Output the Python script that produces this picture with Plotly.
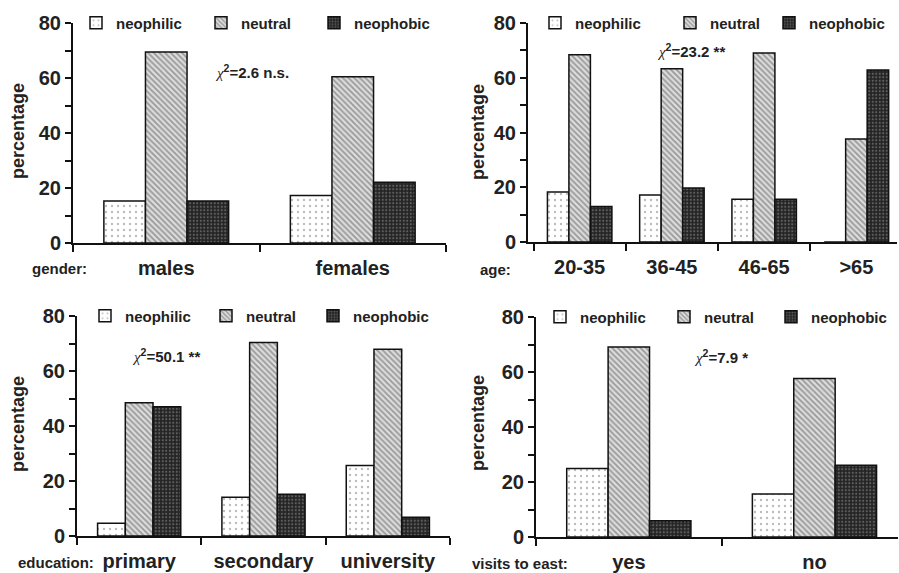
import plotly.graph_objects as go

W, H = 899, 573

series = ["neophilic", "neutral", "neophobic"]

gender_cats = ["males", "females"]
gender_neophilic = [15.3, 17.3]
gender_neutral = [69.5, 60.5]
gender_neophobic = [15.3, 22.1]

age_cats = ["20-35", "36-45", "46-65", ">65"]
age_neophilic = [18.3, 17.2, 15.6, 0]
age_neutral = [68.4, 63.3, 69.0, 37.6]
age_neophobic = [13.0, 19.7, 15.6, 62.8]

edu_cats = ["primary", "secondary", "university"]
edu_neophilic = [4.6, 14.1, 25.6]
edu_neutral = [48.5, 70.4, 67.9]
edu_neophobic = [47.0, 15.2, 6.8]

east_cats = ["yes", "no"]
east_neophilic = [24.9, 15.6]
east_neutral = [69.1, 57.6]
east_neophobic = [5.9, 26.1]

y_ticks = [0, 20, 40, 60, 80]

chi_texts = ["=2.6 n.s.", "=23.2 **", "=50.1 **", "=7.9 *"]
prefix_texts = ["gender:", "age:", "education:", "visits to east:"]

FONT = "Liberation Sans, Arial, sans-serif"
INK = "#222222"


def px(x):
    return x / W


def py(y):
    return 1 - y / H


panels = [
    dict(cats=gender_cats, vals=[gender_neophilic, gender_neutral, gender_neophobic],
         dom_x=(73, 446), dom_y=(23, 243), rng=[-0.5, 1.5], bw=0.223,
         leg_tx=[113, 238, 351], leg_y=23,
         chi=(213, 71), prefix=(30, 268), title=(18, 131)),
    dict(cats=age_cats, vals=[age_neophilic, age_neutral, age_neophobic],
         dom_x=(528, 897), dom_y=(23, 242), rng=[-0.56, 3.44], bw=0.233,
         leg_tx=[572, 707, 806], leg_y=23,
         chi=(655, 50), prefix=(478, 269), title=(478, 132)),
    dict(cats=edu_cats, vals=[edu_neophilic, edu_neutral, edu_neophobic],
         dom_x=(77, 450), dom_y=(316, 536), rng=[-0.5, 2.5], bw=0.223,
         leg_tx=[122, 243, 350], leg_y=316,
         chi=(130, 355), prefix=(16, 562), title=(18, 424)),
    dict(cats=east_cats, vals=[east_neophilic, east_neutral, east_neophobic],
         dom_x=(536, 898), dom_y=(317, 537), rng=[-0.5, 1.45], bw=0.223,
         leg_tx=[577, 701, 808], leg_y=317,
         chi=(692, 356), prefix=(470, 563), title=(478, 423)),
]

styles = [
    dict(color="white", pattern=dict(shape=".", fgcolor="#777777", bgcolor="white", size=6, solidity=0.12)),
    dict(color="#dcdcdc", pattern=dict(shape="\\", fgcolor="#555555", bgcolor="#dcdcdc", size=4, solidity=0.45)),
    dict(color="#242424", pattern=dict(shape=".", fgcolor="#999999", bgcolor="#242424", size=3.5, solidity=0.3)),
]

fig = go.Figure()
annotations = []
legend_layouts = {}
leg_idx = 0

for p, cfg in enumerate(panels):
    ax = "" if p == 0 else str(p + 1)
    bw = cfg["bw"]
    for s, name in enumerate(series):
        leg_idx += 1
        leg_name = "legend" if leg_idx == 1 else f"legend{leg_idx}"
        st = styles[s]
        fig.add_trace(go.Bar(
            x=cfg["cats"], y=cfg["vals"][s], name=name,
            xaxis="x" + ax, yaxis="y" + ax,
            width=bw, offset=(s - 1.5) * bw,
            marker=dict(color=st["color"], pattern=st["pattern"],
                        line=dict(color="#111111", width=1.5)),
            legend=leg_name, showlegend=True,
        ))
        legend_layouts[leg_name] = dict(
            x=px(cfg["leg_tx"][s] - 37), y=py(cfg["leg_y"]),
            xanchor="left", yanchor="middle", orientation="h",
            bgcolor="rgba(0,0,0,0)", borderwidth=0,
            font=dict(size=15, family=FONT, color=INK, weight="bold"),
            itemwidth=30, tracegroupgap=0,
        )

    fig.update_layout({
        "xaxis" + ax: dict(
            domain=[px(cfg["dom_x"][0]), px(cfg["dom_x"][1])],
            anchor="y" + ax, type="category", range=cfg["rng"],
            tickson="boundaries", ticks="outside", ticklen=7, tickwidth=2,
            tickcolor="#111111", showline=True, linewidth=2, linecolor="#111111",
            showgrid=False, zeroline=False, ticklabelstandoff=6,
            tickfont=dict(size=20, family=FONT, color=INK, weight="bold"),
        ),
        "yaxis" + ax: dict(
            domain=[py(cfg["dom_y"][1]), py(cfg["dom_y"][0])],
            anchor="x" + ax, range=[0, 80], tickvals=y_ticks,
            ticks="outside", ticklen=6, tickwidth=2, tickcolor="#111111",
            minor=dict(dtick=10, ticks="outside", ticklen=6, tickwidth=2, tickcolor="#111111"),
            showline=True, linewidth=2, linecolor="#111111",
            showgrid=False, zeroline=False,
            tickfont=dict(size=20, family=FONT, color=INK, weight="bold"),
        ),
    })

    annotations.append(dict(
        text="<span style='font-family:Liberation Serif;font-weight:normal'><i>\u03c7</i></span><sup>2</sup>" + chi_texts[p],
        x=px(cfg["chi"][0]), y=py(cfg["chi"][1]), xref="paper", yref="paper",
        xanchor="left", yanchor="middle", showarrow=False,
        font=dict(size=15, family=FONT, color=INK, weight="bold"),
    ))
    annotations.append(dict(
        text=prefix_texts[p], x=px(cfg["prefix"][0]), y=py(cfg["prefix"][1]),
        xref="paper", yref="paper", xanchor="left", yanchor="middle", showarrow=False,
        font=dict(size=15, family=FONT, color=INK, weight="bold"),
    ))
    annotations.append(dict(
        text="percentage", x=px(cfg["title"][0]), y=py(cfg["title"][1]),
        xref="paper", yref="paper", xanchor="center", yanchor="middle",
        textangle=-90, showarrow=False,
        font=dict(size=18, family=FONT, color=INK, weight="bold"),
    ))

fig.update_layout(**legend_layouts)
fig.update_layout(
    width=W, height=H, margin=dict(l=0, r=0, t=0, b=0, autoexpand=False),
    paper_bgcolor="white", plot_bgcolor="white",
    barmode="overlay", annotations=annotations,
    font=dict(family=FONT, color=INK),
)

fig.write_html(
    "out.html",
    config={"displayModeBar": False},
    post_script="document.body.style.margin='0';document.body.style.overflow='hidden';",
)
